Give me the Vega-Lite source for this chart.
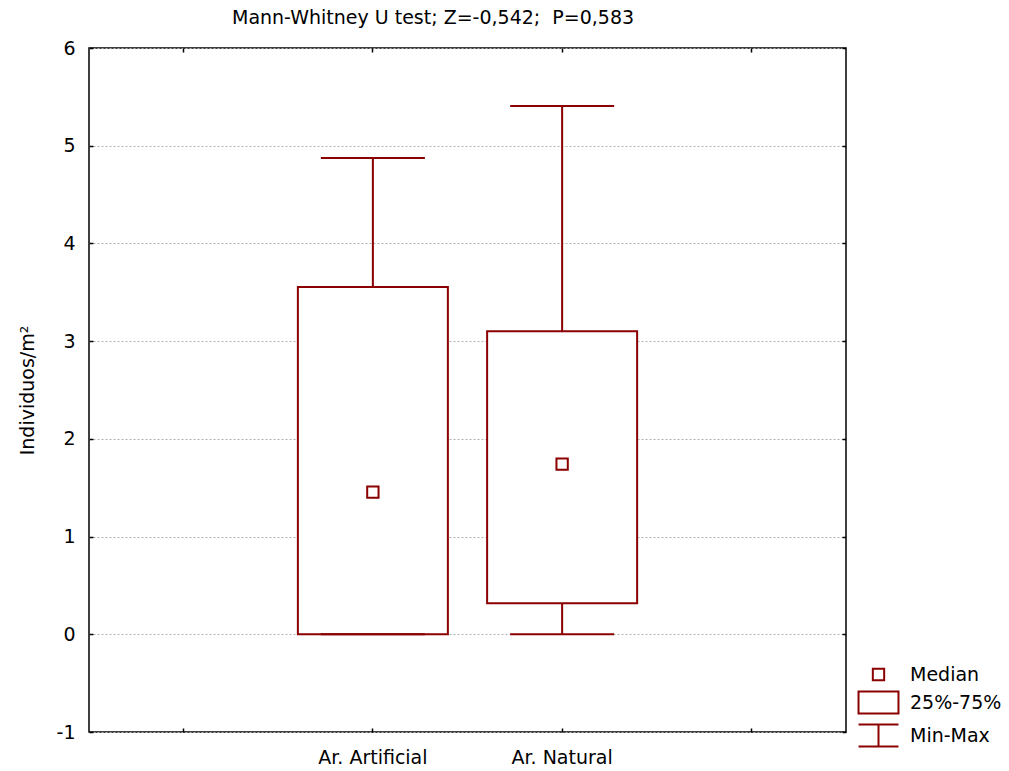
{
  "$schema": "https://vega.github.io/schema/vega-lite/v6.json",
  "width": 757,
  "height": 684,
  "autosize": {"type": "none"},
  "padding": {"left": 89, "top": 48, "right": 163, "bottom": 39},
  "background": "white",
  "title": {
    "text": "Mann-Whitney U test; Z=-0,542; \u00a0P=0,583",
    "anchor": "start",
    "frame": "group",
    "dx": 143,
    "offset": 21,
    "dy": 25,
    "baseline": "alphabetic",
    "fontSize": 19,
    "fontWeight": "normal",
    "font": "DejaVu Sans",
    "color": "#000000"
  },
  "config": {
    "view": {"stroke": "black", "strokeWidth": 1.5},
    "font": "DejaVu Sans",
    "axis": {
      "domain": false,
      "tickColor": "black",
      "tickWidth": 1.5,
      "tickSize": -4,
      "labelColor": "black",
      "labelFont": "DejaVu Sans",
      "labelFontSize": 19,
      "titleFont": "DejaVu Sans",
      "titleFontSize": 19,
      "titleFontWeight": "normal",
      "titleColor": "black"
    }
  },
  "data": {
    "values": [
      {"group": "Ar. Artificial", "min": 0, "q1": 0, "median": 1.455, "q3": 3.553, "max": 4.874},
      {"group": "Ar. Natural", "min": 0, "q1": 0.317, "median": 1.742, "q3": 3.102, "max": 5.406}
    ]
  },
  "layer": [
    {
      "mark": {"type": "rule", "color": "#8B0000", "strokeWidth": 2},
      "encoding": {
        "x": {
          "field": "group",
          "type": "nominal",
          "scale": {"type": "band", "domain": ["_a", "Ar. Artificial", "Ar. Natural", "_b"], "paddingInner": 0, "paddingOuter": 0},
          "axis": {
            "orient": "bottom",
            "title": null,
            "labelAngle": 0,
            "labelPadding": 20,
            "grid": false,
            "labelExpr": "indexof(datum.label, '_') == 0 ? '' : datum.label"
          }
        },
        "y": {
          "field": "min",
          "type": "quantitative",
          "scale": {"domain": [-1, 6], "nice": false, "zero": false},
          "axis": {
            "orient": "left",
            "values": [-1, 0, 1, 2, 3, 4, 5, 6],
            "labelExpr": "'' + datum.value",
            "title": "Individuos/m²",
            "titleX": -62,
            "titleBaseline": "middle",
            "labelPadding": 18,
            "grid": true,
            "gridColor": "#b0b0b0",
            "gridDash": [2, 2],
            "gridWidth": 1
          }
        },
        "y2": {"field": "max"}
      }
    },
    {
      "mark": {"type": "bar", "size": 150, "fill": "white", "stroke": "#8B0000", "strokeWidth": 2},
      "encoding": {
        "x": {
          "field": "group",
          "type": "nominal",
          "scale": {"type": "band", "domain": ["_a", "Ar. Artificial", "Ar. Natural", "_b"], "paddingInner": 0, "paddingOuter": 0},
          "axis": {"orient": "top", "title": null, "labels": false, "grid": false}
        },
        "y": {
          "field": "q1",
          "type": "quantitative",
          "scale": {"domain": [-1, 6], "nice": false, "zero": false},
          "axis": {"orient": "right", "title": null, "labels": false, "grid": false, "values": [-1, 0, 1, 2, 3, 4, 5, 6]}
        },
        "y2": {"field": "q3"}
      }
    },
    {
      "mark": {"type": "tick", "size": 104, "thickness": 2, "color": "#8B0000", "opacity": 1},
      "encoding": {
        "x": {"field": "group", "type": "nominal", "scale": {"type": "band", "domain": ["_a", "Ar. Artificial", "Ar. Natural", "_b"], "paddingInner": 0, "paddingOuter": 0}, "axis": null},
        "y": {"field": "min", "type": "quantitative", "scale": {"domain": [-1, 6], "nice": false, "zero": false}, "axis": null}
      }
    },
    {
      "mark": {"type": "tick", "size": 104, "thickness": 2, "color": "#8B0000", "opacity": 1},
      "encoding": {
        "x": {"field": "group", "type": "nominal", "scale": {"type": "band", "domain": ["_a", "Ar. Artificial", "Ar. Natural", "_b"], "paddingInner": 0, "paddingOuter": 0}, "axis": null},
        "y": {"field": "max", "type": "quantitative", "scale": {"domain": [-1, 6], "nice": false, "zero": false}, "axis": null}
      }
    },
    {
      "mark": {"type": "point", "filled": false, "color": "#8B0000", "strokeWidth": 2, "size": 729, "opacity": 1},
      "encoding": {
        "x": {"field": "group", "type": "nominal", "scale": {"type": "band", "domain": ["_a", "Ar. Artificial", "Ar. Natural", "_b"], "paddingInner": 0, "paddingOuter": 0}, "axis": null},
        "y": {"field": "median", "type": "quantitative", "scale": {"domain": [-1, 6], "nice": false, "zero": false}, "axis": null},
        "shape": {
          "datum": "Median",
          "type": "nominal",
          "scale": {
            "domain": ["Median", "25%-75%", "Min-Max"],
            "range": [
              "M-0.42,-0.42H0.42V0.42H-0.42Z",
              "M-1.48,-0.81H1.48V0.81H-1.48Z",
              "M-1.48,-0.81H1.48M0,-0.81V0.81M-1.48,0.81H1.48"
            ]
          },
          "legend": {
            "title": null,
            "orient": "none",
            "legendX": 775,
            "legendY": 612,
            "padding": 0,
            "symbolSize": 729,
            "symbolStrokeColor": "#8B0000",
            "symbolStrokeWidth": 2,
            "labelFont": "DejaVu Sans",
            "labelFontSize": 19,
            "labelColor": "black",
            "labelOffset": 17,
            "rowPadding": 2
          }
        }
      }
    }
  ],
  "resolve": {"axis": {"x": "independent", "y": "independent"}}
}
